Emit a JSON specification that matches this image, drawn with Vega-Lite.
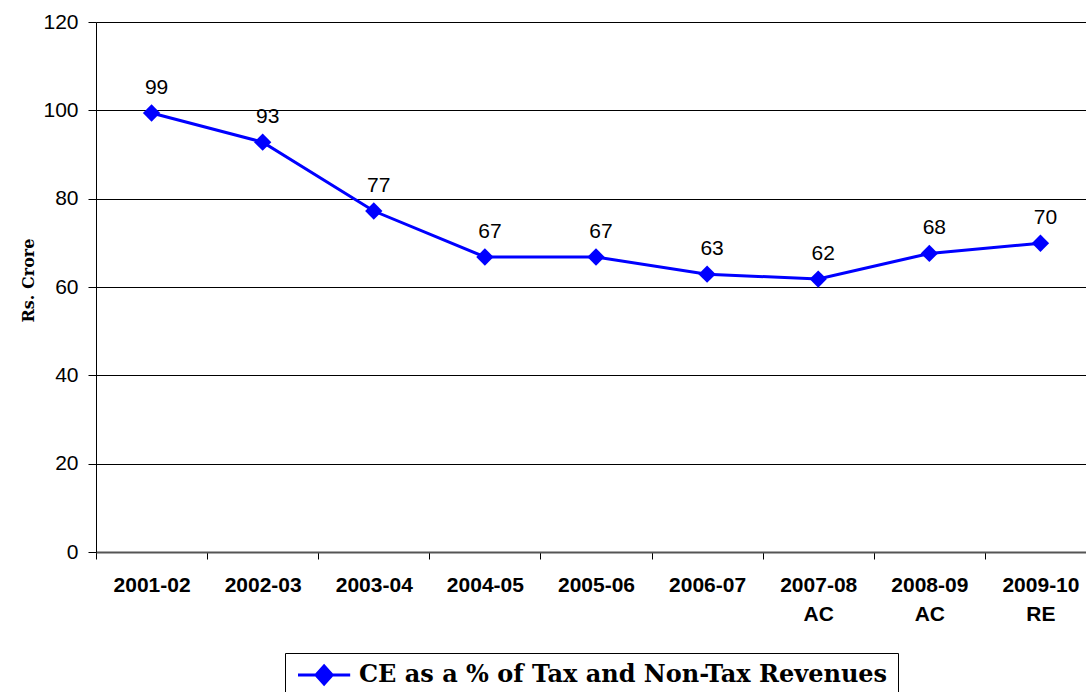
{
  "$schema": "https://vega.github.io/schema/vega-lite/v6.json",
  "width": 990,
  "height": 530,
  "autosize": "none",
  "padding": {"left": 96, "top": 22, "right": 0, "bottom": 140},
  "background": "white",
  "config": {"view": {"stroke": null}, "font": "Liberation Sans"},
  "data": {
    "values": [
      {"year": "2001-02", "value": 99.4},
      {"year": "2002-03", "value": 92.8},
      {"year": "2003-04", "value": 77.2},
      {"year": "2004-05", "value": 66.8},
      {"year": "2005-06", "value": 66.8},
      {"year": "2006-07", "value": 62.9},
      {"year": "2007-08|AC", "value": 61.8},
      {"year": "2008-09|AC", "value": 67.6},
      {"year": "2009-10|RE", "value": 69.9}
    ]
  },
  "encoding": {
    "x": {
      "field": "year",
      "type": "ordinal",
      "sort": null,
      "scale": {"type": "band", "range": [0, 1000], "paddingInner": 0, "paddingOuter": 0},
      "axis": {
        "title": null,
        "labelAngle": 0,
        "labelExpr": "split(datum.label, '|')",
        "labelFont": "Liberation Sans",
        "labelFontSize": 21,
        "labelFontWeight": "bold",
        "labelColor": "black",
        "labelLineHeight": 29,
        "labelPadding": 15,
        "tickSize": 7,
        "tickColor": "black",
        "tickBand": "extent",
        "domainColor": "#555555",
        "domainWidth": 2,
        "grid": false
      }
    },
    "y": {
      "field": "value",
      "type": "quantitative",
      "scale": {"domain": [0, 120]},
      "axis": {
        "title": "Rs. Crore",
        "titleFont": "DejaVu Serif",
        "titleFontSize": 16,
        "titleFontWeight": "bold",
        "titleColor": "black",
        "titlePadding": 6,
        "titleY": 258,
        "values": [0, 20, 40, 60, 80, 100, 120],
        "labelFont": "Liberation Sans",
        "labelFontSize": 21,
        "labelColor": "black",
        "labelPadding": 10,
        "tickSize": 8,
        "tickColor": "black",
        "domainColor": "black",
        "gridColor": "black",
        "gridWidth": 1
      }
    }
  },
  "layer": [
    {
      "mark": {"type": "line", "color": "#0000FF", "strokeWidth": 3},
      "encoding": {
        "color": {
          "datum": "CE as a % of Tax and Non-Tax Revenues",
          "scale": {"range": ["#0000FF"]},
          "legend": {
            "orient": "none",
            "legendX": 189,
            "legendY": 631,
            "title": null,
            "strokeColor": "black",
            "fillColor": "white",
            "padding": 10,
            "symbolType": "M-1,0H4.8M1.9,-1L2.8,0L1.9,1L1,0Z",
            "symbolSize": 324,
            "symbolStrokeWidth": 3,
            "labelFont": "DejaVu Serif",
            "labelFontSize": 24,
            "labelFontWeight": "bold",
            "labelColor": "black",
            "labelOffset": 40,
            "labelLimit": 800,
            "encode": {"symbols": {"update": {"fill": {"value": "#0000FF"}, "stroke": {"value": "#0000FF"}, "opacity": {"value": 1}}}}
          }
        }
      }
    },
    {
      "mark": {"type": "point", "shape": "diamond", "filled": true, "size": 300, "color": "#0000FF", "opacity": 1}
    },
    {
      "mark": {"type": "text", "dy": -25, "dx": 5, "fontSize": 21, "font": "Liberation Sans", "color": "black"},
      "encoding": {"text": {"field": "value", "type": "quantitative", "format": ".0f"}}
    }
  ]
}
